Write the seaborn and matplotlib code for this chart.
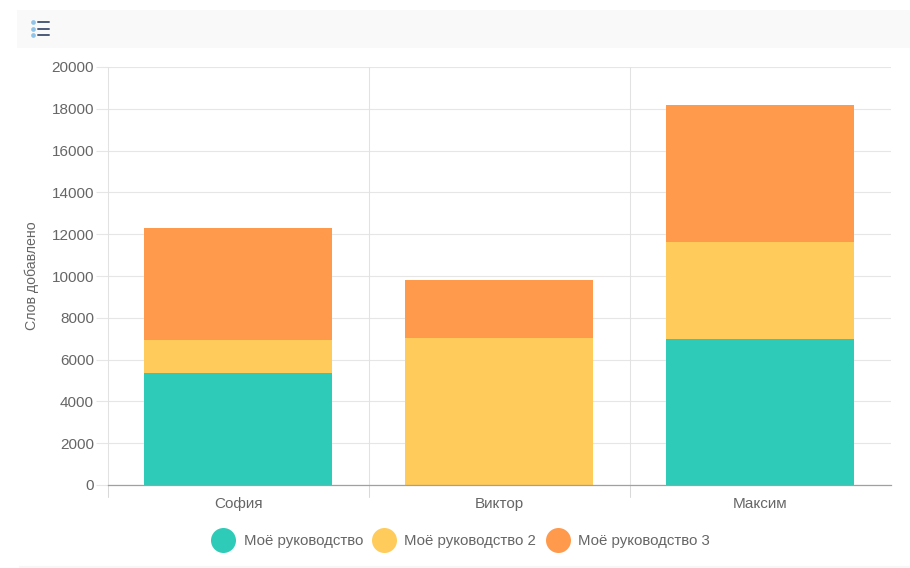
import matplotlib
matplotlib.use("Agg")
import matplotlib.pyplot as plt
from matplotlib.lines import Line2D
from matplotlib.patches import Rectangle
import numpy as np
import pandas as pd
import seaborn as sns

categories = ["София", "Виктор", "Максим"]
series_names = ["Моё руководство", "Моё руководство 2", "Моё руководство 3"]
series_1 = [5350, 0, 7000]
series_2 = [1600, 7050, 4650]
series_3 = [5350, 2750, 6550]
colors = ["#2ecbb8", "#ffcb5a", "#ff9a4d"]
y_ticks = list(range(0, 20001, 2000))
y_label = "Слов добавлено"

W, H = 910, 568
sns.set_theme(style="white")
plt.rcParams["font.family"] = ["Liberation Sans", "DejaVu Sans"]
text_color = "#666666"

fig = plt.figure(figsize=(W / 100, H / 100), dpi=100, facecolor="white")
ax = fig.add_axes([107.5 / W, 1 - 485 / H, (891 - 107.5) / W, (485 - 67) / H])

df = pd.DataFrame({"cat": categories, "a": series_1, "b": series_2, "c": series_3})
bottom = np.zeros(len(categories))
for key, color in zip(["a", "b", "c"], colors):
    sns.barplot(data=df, x="cat", y=key, color=color, width=0.72, saturation=1,
                bottom=bottom, ax=ax, zorder=3, linewidth=0)
    bottom = bottom + df[key].to_numpy()

ax.set_xlim(-0.5, 2.5)
ax.set_ylim(0, 20000)
ax.set_yticks(y_ticks)
ax.set_xticks([0, 1, 2])
ax.set_xticklabels(categories)
ax.set_xlabel("")
ax.set_ylabel(y_label, fontsize=10.2, color=text_color, labelpad=0)
ax.yaxis.set_label_coords((40 - 108) / (891 - 108), (485.5 - 276) / 418)

ax.grid(axis="y", color="#e6e6e6", linewidth=0.8, zorder=0)
ax.set_axisbelow(True)
for x in [-0.5, 0.5, 1.5]:
    ax.plot([x, x], [0, 1], transform=ax.get_xaxis_transform(), color="#e2e2e2",
            linewidth=0.75, zorder=1, clip_on=False)
    ax.plot([x, x], [-11.5 / 418, 0], transform=ax.get_xaxis_transform(), color="#d9d9d9",
            linewidth=0.75, zorder=1, clip_on=False)
for s in ["top", "right", "left"]:
    ax.spines[s].set_visible(False)
ax.spines["bottom"].set_color("#a0a0a0")
ax.spines["bottom"].set_linewidth(0.9)
ax.spines["bottom"].set_zorder(4)

ax.tick_params(axis="y", length=9, width=0.8, color="#e6e6e6", pad=0.8, labelsize=11, labelcolor=text_color, left=True)
ax.tick_params(axis="x", length=0, pad=8.6, labelsize=11, labelcolor=text_color)

# toolbar strip and list icon
fig.patches.append(Rectangle((17 / W, 1 - 47.5 / H), (910 - 17) / W, 37.5 / H, transform=fig.transFigure,
                             facecolor="#f9f9f9", edgecolor="none", figure=fig))
for y in [22, 28.5, 35]:
    fig.add_artist(Line2D([37.5 / W, 48.5 / W], [1 - y / H, 1 - y / H], color="#4a5a78", linewidth=1.4))
    fig.add_artist(Line2D([32.5 / W], [1 - y / H], marker="o", markersize=3.4, markeredgewidth=0,
                          color="#8fc3ea", linestyle="none"))
fig.add_artist(Line2D([20 / W, 910 / W], [1 - 566.5 / H, 1 - 566.5 / H], color="#f7f7f7", linewidth=1.5))

handles = [Line2D([], [], marker="o", linestyle="none", markersize=18, markeredgewidth=0, color=c) for c in colors]
fig.legend(handles, series_names, loc="center", bbox_to_anchor=(460.5 / W, 1 - 541.5 / H), ncol=3, frameon=False,
           fontsize=10.8, labelcolor=text_color, handletextpad=0.55, columnspacing=0.62, borderpad=0, handlelength=1.6)

fig.savefig("out.png", dpi=100)
